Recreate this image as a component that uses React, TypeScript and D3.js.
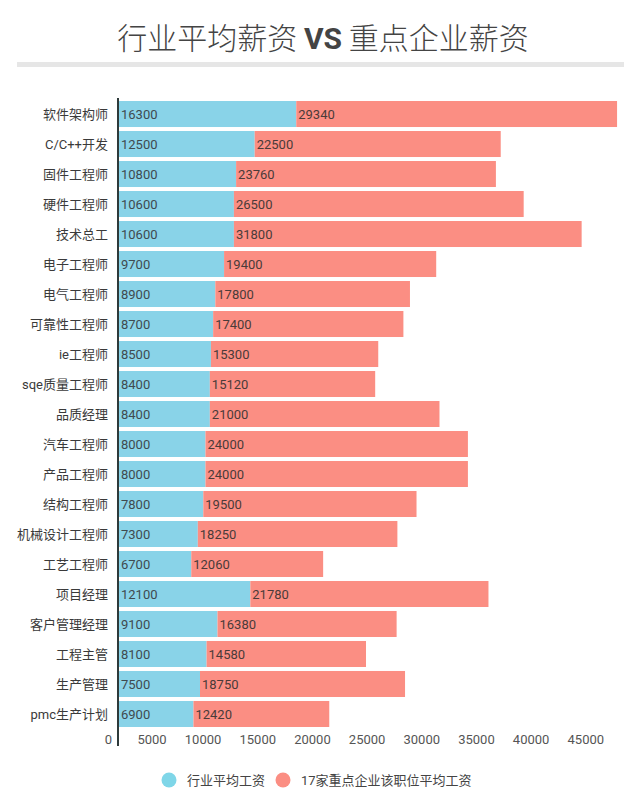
import React from "react";
import * as d3 from "d3";

const categories = ["软件架构师","C/C++开发","固件工程师","硬件工程师","技术总工","电子工程师","电气工程师","可靠性工程师","ie工程师","sqe质量工程师","品质经理","汽车工程师","产品工程师","结构工程师","机械设计工程师","工艺工程师","项目经理","客户管理经理","工程主管","生产管理","pmc生产计划"];
const industryAvg = [16300,12500,10800,10600,10600,9700,8900,8700,8500,8400,8400,8000,8000,7800,7300,6700,12100,9100,8100,7500,6900];
const keyEnterprise = [29340,22500,23760,26500,31800,19400,17800,17400,15300,15120,21000,24000,24000,19500,18250,12060,21780,16380,14580,18750,12420];
const xTicks = [0,5000,10000,15000,20000,25000,30000,35000,40000,45000];
const seriesNames = ["行业平均工资","17家重点企业该职位平均工资"];

const W = 624, H = 805;
const BLUE = "#89d3e8";
const RED = "#fb8e83";
const FONT = "Roboto, 'Noto Sans CJK SC', sans-serif";

export default function App() {
  const x = d3.scaleLinear().domain([0, 46000]).range([118, 621]);
  const y = d3.scaleBand<string>().domain(categories).range([99, 729]).paddingInner(0.133).paddingOuter(0.067);
  const bh = y.bandwidth();
  return (
    <svg width={W} height={H} style={{ position: "absolute", left: 0, top: 0, background: "#fff" }} fontFamily={FONT}>
      <text x={323} y={49} textAnchor="middle" fontSize={30} fill="#444" fontWeight={300} fontFamily="'Noto Sans CJK SC', sans-serif">
        行业平均薪资 <tspan fontWeight="bold" fontFamily="Roboto, sans-serif">VS</tspan> 重点企业薪资
      </text>
      <rect x={17} y={62} width={W - 17} height={5} fill="#e6e6e6" />
      {categories.map((c, i) => {
        const y0 = y(c)!;
        const a = industryAvg[i], b = keyEnterprise[i];
        return (
          <g key={c}>
            <text x={108} y={y0 + bh / 2} dy="0.35em" textAnchor="end" fontSize={13} fill="#3a3a3a">{c}</text>
            <rect x={x(0)} y={y0} width={x(a) - x(0)} height={bh} fill={BLUE} />
            <rect x={x(a)} y={y0} width={x(a + b) - x(a)} height={bh} fill={RED} />
            <text x={x(0) + 3} y={y0 + bh / 2} dy="0.35em" fontSize={13} fill="#3f4a4f">{a}</text>
            <text x={x(a) + 2} y={y0 + bh / 2} dy="0.35em" fontSize={13} fill="#4a3b39">{b}</text>
          </g>
        );
      })}
      <line x1={118} x2={118} y1={98} y2={746} stroke="#2e3a3a" strokeWidth={2} />
      {xTicks.map((t) => (
        <text key={t} x={x(t) - 6} y={739} dy="0.35em" textAnchor="end" fontSize={13} fill="#555">{t}</text>
      ))}
      <circle cx={169} cy={780} r={7.5} fill="#7fd6e8" />
      <text x={187} y={780} dy="0.35em" fontSize={13} fill="#444">{seriesNames[0]}</text>
      <circle cx={283} cy={780} r={7.5} fill={RED} />
      <text x={301} y={780} dy="0.35em" fontSize={13} fill="#444">{seriesNames[1]}</text>
    </svg>
  );
}
